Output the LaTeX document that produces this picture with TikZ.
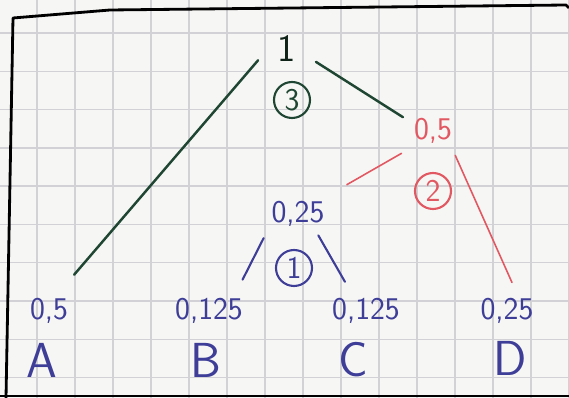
\documentclass[tikz,border=0pt]{standalone}
\usepackage{tikz}
\definecolor{paper}{RGB}{246,246,244}
\definecolor{gridGray}{RGB}{210,210,214}
\definecolor{inkGreen}{RGB}{30,70,50}
\definecolor{inkRed}{RGB}{226,88,98}
\definecolor{inkBlue}{RGB}{62,62,152}

\begin{document}
\begin{tikzpicture}[
  x=0.02cm, y=-0.02cm,
  num/.style={inner sep=2pt, text height=12pt, text depth=2pt, font=\fontsize{18}{20}\selectfont\sffamily},
  circnum/.style={circle, draw, line width=1.2pt, minimum size=0.72cm, inner sep=0pt, font=\fontsize{18}{20}\selectfont\sffamily},
  letter/.style={inkBlue, font=\fontsize{28}{30}\selectfont\sffamily},
  edge/.style={line width=1.2pt, line cap=round}
]
\useasboundingbox (0,0) rectangle (569,398);

% paper and grid
\fill[paper] (0,0) rectangle (569,398);
\foreach \gx in {37,75,...,569} {
  \draw[gridGray, line width=0.8pt] (\gx,0) -- (\gx,398);
}
\foreach \gy in {33,71.3,...,398} {
  \draw[gridGray, line width=0.8pt] (0,\gy) -- (569,\gy);
}

% frame
\draw[black, line width=1.6pt, line join=round] (6,398) -- (13,18) -- (110,10) -- (566,5) -- (569,8);
\draw[black, line width=1.6pt] (0,396) -- (569,396);

% tree nodes
\node[inkGreen!50!black, inner sep=2pt, text height=15pt, text depth=0pt, font=\fontsize{22}{24}\selectfont\sffamily] (root) at (287,48) {1};
\node[circnum, inkGreen] (step3) at (292,100) {3};
\node[num, inkRed] (red05) at (433,131) {0,5};
\node[circnum, inkRed] (step2) at (433,191) {2};
\node[num, inkBlue] (blue025) at (298,214) {0,25};
\node[circnum, inkBlue] (step1) at (294,268) {1};

% leaves
\node[num, inkBlue] (leafA) at (49,311) {0,5};
\node[num, inkBlue] (leafB) at (209,311) {0,125};
\node[num, inkBlue] (leafC) at (366,311) {0,125};
\node[num, inkBlue] (leafD) at (507,311) {0,25};
\node[letter] (symA) at (42,360) {A};
\node[letter] (symB) at (206,360) {B};
\node[letter] (symC) at (353,360) {C};
\node[letter] (symD) at (510,358) {D};

% edges
\draw[edge, inkGreen, line width=1.4pt, shorten <=0.49cm, shorten >=0.53cm] (root.154) -- (leafA.64);
\draw[edge, inkGreen, line width=1.4pt, shorten <=0.38cm, shorten >=0.17cm] (root.-16) -- (red05.158);
\draw[edge, inkRed, line width=0.9pt, shorten <=0.25cm, shorten >=0.53cm] (red05.218) -- (blue025.32);
\draw[edge, inkRed, line width=0.9pt, shorten <=0.18cm, shorten >=0.27cm] (red05.-41) -- (leafD.57);
\draw[edge, inkBlue, shorten <=0.18cm, shorten >=0.34cm] (blue025.208) -- (leafB.32);
\draw[edge, inkBlue, shorten <=0.12cm, shorten >=0.30cm] (blue025.-43) -- (leafC.130);

\end{tikzpicture}
\end{document}
